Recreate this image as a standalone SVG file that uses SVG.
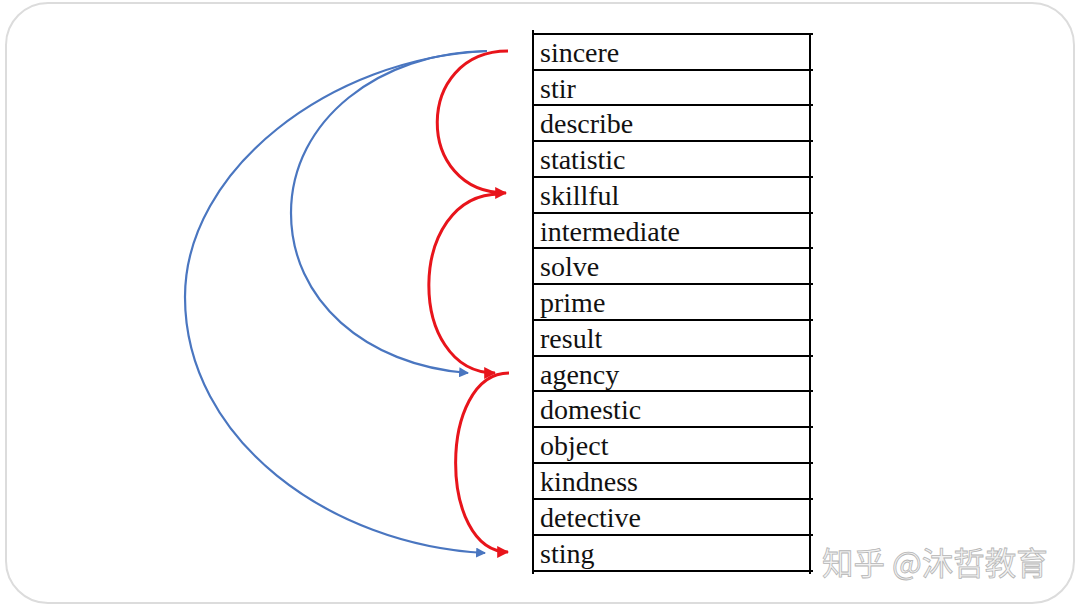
<svg xmlns="http://www.w3.org/2000/svg" width="1080" height="607" viewBox="0 0 1080 607">
<style>
.frame{fill:#fff;stroke:#dcdcdc;stroke-width:2}
.grid{stroke:#000;stroke-width:2;fill:none}
.word{font-family:"Liberation Serif","Times New Roman",serif;font-size:28px;fill:#111}
.red{fill:none;stroke:#e8141b;stroke-width:3}
.blue{fill:none;stroke:#4a76c0;stroke-width:2.2}
.wm{font-family:"Noto Sans CJK SC","Noto Sans",sans-serif;font-size:31.5px;fill:#f2f2f2;stroke:#b5b5b5;stroke-width:0.8}
</style>
<defs>
<marker id="ar" viewBox="0 0 10 10" refX="9" refY="5" markerWidth="4" markerHeight="4" orient="auto" markerUnits="strokeWidth">
<path d="M0,0 L10,5 L0,10 z" fill="#e8141b"/>
</marker>
<marker id="ab" viewBox="0 0 10 10" refX="9" refY="5" markerWidth="4.5" markerHeight="4.5" orient="auto" markerUnits="strokeWidth">
<path d="M0,0 L10,5 L0,10 z" fill="#4a76c0"/>
</marker>
</defs>
<rect class="frame" x="6" y="3" width="1068" height="600" rx="42"/>
<g id="table">
<path class="grid" d="M533,30 V574 M810,33 V574"/>
<path class="grid" d="M533,34H813 M533,70H813 M533,105H813 M533,141H813 M533,177H813 M533,213H813 M533,248H813 M533,284H813 M533,320H813 M533,356H813 M533,391H813 M533,427H813 M533,463H813 M533,499H813 M533,535H813 M533,571H813"/>
</g>
<g id="n1"><text class="word" x="540" y="62">sincere</text></g>
<g id="n2"><text class="word" x="540" y="98">stir</text></g>
<g id="n3"><text class="word" x="540" y="133">describe</text></g>
<g id="n4"><text class="word" x="540" y="169">statistic</text></g>
<g id="n5"><text class="word" x="540" y="205">skillful</text></g>
<g id="n6"><text class="word" x="540" y="241">intermediate</text></g>
<g id="n7"><text class="word" x="540" y="276">solve</text></g>
<g id="n8"><text class="word" x="540" y="312">prime</text></g>
<g id="n9"><text class="word" x="540" y="348">result</text></g>
<g id="n10"><text class="word" x="540" y="384">agency</text></g>
<g id="n11"><text class="word" x="540" y="419">domestic</text></g>
<g id="n12"><text class="word" x="540" y="455">object</text></g>
<g id="n13"><text class="word" x="540" y="491">kindness</text></g>
<g id="n14"><text class="word" x="540" y="527">detective</text></g>
<g id="n15"><text class="word" x="540" y="563">sting</text></g>
<g id="connectors">
<path class="red" marker-end="url(#ar)" d="M508,51 C414,51 414,193 506,193"/>
<path class="red" marker-end="url(#ar)" d="M500,194 C406,194 406,373 495,373"/>
<path class="red" marker-end="url(#ar)" d="M509,373 C438,373 438,552 508,552"/>
<path class="blue" marker-end="url(#ab)" d="M487,51 C380,52 291,120 291,213 C291,300 365,365 468,373"/>
<path class="blue" marker-end="url(#ab)" d="M487,51 C330,58 185,170 185,297 C185,440 330,545 485,553"/>
</g>
<text class="wm" x="822" y="575">知乎 @沐哲教育</text>
</svg>
